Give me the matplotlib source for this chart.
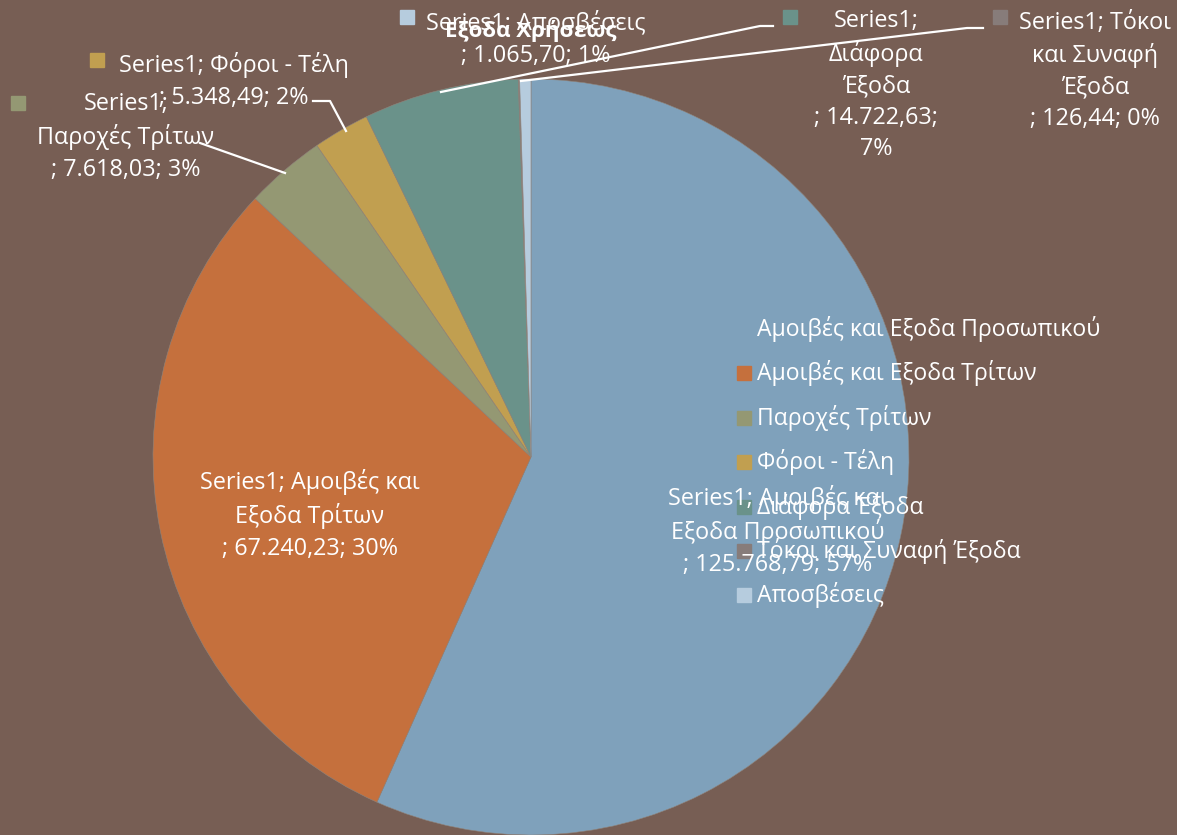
import matplotlib
matplotlib.use("Agg")
import matplotlib.pyplot as plt
from matplotlib.patches import Rectangle

plt.rcParams['font.family'] = ['Open Sans', 'DejaVu Sans']

title = "Εξοδα Χρήσεως"
series_name = "Series1"
categories = ["Αμοιβές και Εξοδα Προσωπικού", "Αμοιβές και Εξοδα Τρίτων",
              "Παροχές Τρίτων", "Φόροι - Τέλη", "Διάφορα Έξοδα",
              "Τόκοι και Συναφή Έξοδα", "Αποσβέσεις"]
values = [125768.79, 67240.23, 7618.03, 5348.49, 14722.63, 126.44, 1065.70]
value_texts = ["125.768,79", "67.240,23", "7.618,03", "5.348,49", "14.722,63", "126,44", "1.065,70"]
pct_texts = ["57%", "30%", "3%", "2%", "7%", "0%", "1%"]
colors = ["#7FA1BB", "#C5703D", "#949873", "#C19F50", "#6A928A", "#877C7A", "#B6CCDE"]
bg = "#775E54"

W, H = 1177, 835
fig = plt.figure(figsize=(W / 100, H / 100), dpi=100, facecolor=bg)

# pie axes (pixel-like coordinates, y up)
pax = fig.add_axes([0, 0, 1, 1], zorder=0)
cx, cy, r = 531, H - 457, 378
wedges, _ = pax.pie(values, colors=colors, startangle=90, counterclock=False,
                    center=(cx, cy), radius=r, frame=True,
                    wedgeprops=dict(linewidth=0.4, edgecolor="#8f847c"))
pax.set_xlim(0, W)
pax.set_ylim(0, H)
pax.set_aspect('auto')
pax.axis('off')

# overlay axes for texts (pixel coords, y down)
ax = fig.add_axes([0, 0, 1, 1], zorder=2)
ax.set_xlim(0, W)
ax.set_ylim(H, 0)
ax.axis('off')
ax.patch.set_alpha(0)

fs = 16.8
txt = dict(color='white', fontsize=fs, ha='center', va='center', linespacing=1.4)

# title
ax.text(531, 31, title, color='white', fontsize=16, fontweight='bold', ha='center', va='center')

# data labels
ax.text(778, 531, f"{series_name}; Αμοιβές και\nΕξοδα Προσωπικού\n; {value_texts[0]}; {pct_texts[0]}", **txt)
ax.text(310, 515, f"{series_name}; Αμοιβές και\nΕξοδα Τρίτων\n; {value_texts[1]}; {pct_texts[1]}", **txt)
ax.text(126, 137, f"{series_name};\nΠαροχές Τρίτων\n; {value_texts[2]}; {pct_texts[2]}", **txt)
ax.text(234, 81, f"{series_name}; Φόροι - Τέλη\n; {value_texts[3]}; {pct_texts[3]}", **txt)
ax.text(876, 85, f"{series_name};\nΔιάφορα\nΈξοδα\n; {value_texts[4]};\n{pct_texts[4]}", **txt)
ax.text(1095, 71, f"{series_name}; Τόκοι\nκαι Συναφή\nΈξοδα\n; {value_texts[5]}; {pct_texts[5]}", **txt)
ax.text(536, 39, f"{series_name}; {categories[6]}\n; {value_texts[6]}; {pct_texts[6]}", **txt)

# label markers
for (mx, my), c in zip([(18, 103), (97, 60), (790, 17), (1000, 17), (407, 17)],
                       [colors[2], colors[3], colors[4], colors[5], colors[6]]):
    ax.add_patch(Rectangle((mx - 7, my - 7), 14, 14, color=c))

# leader lines
lw = 1.6
ax.plot([200, 285], [143, 173], color='white', lw=lw)
ax.plot([313, 330, 346], [101, 101, 131], color='white', lw=lw)
ax.plot([441, 760, 773], [92, 26, 26], color='white', lw=lw)
ax.plot([521, 967, 983], [81, 28, 28], color='white', lw=lw)

# legend
ly0, dy = 329, 44.4
for i, (c, name) in enumerate(zip(colors, categories)):
    y = ly0 + i * dy
    ax.add_patch(Rectangle((737, y - 7), 14, 14, color=c))
    ax.text(757, y, name, color='white', fontsize=16.6, ha='left', va='center')

fig.savefig("out.png", dpi=100, facecolor=bg)
